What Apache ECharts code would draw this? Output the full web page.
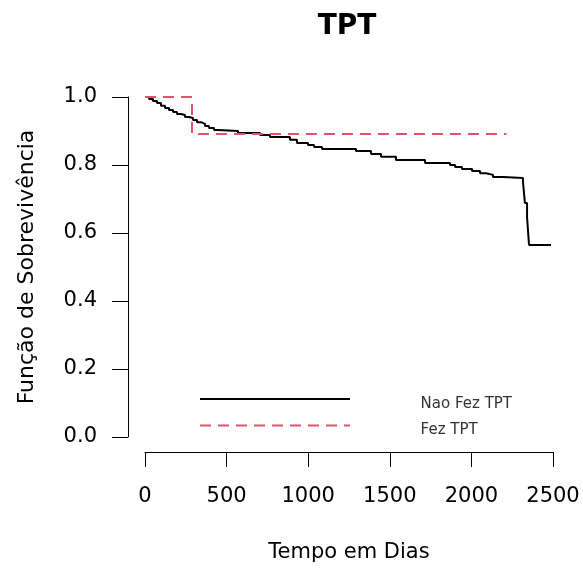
<!DOCTYPE html>
<html>
<head>
<meta charset="utf-8">
<script src="https://cdn.jsdelivr.net/npm/echarts@6/dist/echarts.min.js"></script>
<style>
  html, body { margin: 0; padding: 0; background: #fff; }
  #chart { width: 583px; height: 575px; }
</style>
</head>
<body>
<div id="chart"></div>
<script>
// curva de Kaplan-Meier
var naoFezTempo = [0, 25, 49, 74, 98, 123, 147, 172, 196, 221, 245, 270, 294, 319, 343, 368, 392, 423, 447,
    570, 705, 766, 888, 931, 999, 1036, 1085, 1293, 1385, 1446, 1538, 1716, 1869, 1900, 1942, 2004,
    2053, 2090, 2132, 2194, 2316, 2328, 2341, 2353, 2488];
var naoFezSobrev = [1.0, 0.994, 0.988, 0.982, 0.974, 0.968, 0.962, 0.956, 0.950, 0.947, 0.941, 0.938, 0.932,
    0.926, 0.921, 0.915, 0.909, 0.903, 0.900, 0.894, 0.888, 0.882, 0.874, 0.865, 0.859, 0.853, 0.847,
    0.841, 0.832, 0.824, 0.815, 0.806, 0.800, 0.794, 0.788, 0.782, 0.776, 0.771, 0.765, 0.762, 0.750,
    0.688, 0.647, 0.565, 0.565];

var fezTempo = [0, 288, 2215];
var fezSobrev = [1.0, 0.891, 0.891];

var xTicks = [0, 500, 1000, 1500, 2000, 2500];
var yTicks = [0.0, 0.2, 0.4, 0.6, 0.8, 1.0];

var nomes = ['Nao Fez TPT', 'Fez TPT'];

function pares(t, s) {
    var out = [];
    for (var i = 0; i < t.length; i++) {
        out.push([t[i], s[i]]);
    }
    return out;
}

var myChart = echarts.init(document.getElementById('chart'));
var fonte = '"DejaVu Sans", sans-serif';

var option = {
    animation: false,
    backgroundColor: '#fff',
    title: {
        text: 'TPT',
        left: 342,
        top: 8,
        textAlign: 'center',
        textStyle: { fontFamily: fonte, fontSize: 28, fontWeight: 'bold', color: '#000' }
    },
    // legenda estilo R: linhas a esquerda, texto bem afastado e um pouco abaixo
    legend: [
        {
            data: nomes,
            orient: 'vertical',
            left: 194,
            top: 387,
            itemWidth: 150,
            itemHeight: 14,
            itemGap: 14,
            itemStyle: { opacity: 0 },
            formatter: function () { return ''; }
        },
        {
            data: nomes,
            orient: 'vertical',
            left: 405,
            top: 392,
            itemWidth: 0,
            itemHeight: 14,
            itemGap: 11,
            itemStyle: { opacity: 0 },
            lineStyle: { opacity: 0 },
            textStyle: { fontFamily: fonte, fontSize: 15, color: '#333' }
        }
    ],
    grid: { left: 145, right: 30, top: 97, bottom: 138 },
    xAxis: {
        type: 'value',
        min: xTicks[0],
        max: xTicks[xTicks.length - 1],
        interval: 500,
        offset: 15,
        name: 'Tempo em Dias',
        nameLocation: 'middle',
        nameGap: 90,
        nameTextStyle: { fontFamily: fonte, fontSize: 21, color: '#000' },
        axisLine: { onZero: false, lineStyle: { color: '#000', width: 1 } },
        axisTick: { length: 15, lineStyle: { color: '#000', width: 1 } },
        axisLabel: {
            margin: 34, fontFamily: fonte, fontSize: 21, color: '#000',
            formatter: function (v) { return String(v); }
        },
        splitLine: { show: false }
    },
    yAxis: {
        type: 'value',
        min: yTicks[0],
        max: yTicks[yTicks.length - 1],
        interval: 0.2,
        offset: 17,
        name: 'Função de Sobrevivência',
        nameLocation: 'middle',
        nameRotate: 90,
        nameGap: 90,
        nameTextStyle: { fontFamily: fonte, fontSize: 22, color: '#000' },
        axisLine: { show: true, onZero: false, lineStyle: { color: '#000', width: 1 } },
        axisTick: { show: true, length: 16, lineStyle: { color: '#000', width: 1 } },
        axisLabel: {
            margin: 31, fontFamily: fonte, fontSize: 21, color: '#000',
            formatter: function (v) { return v.toFixed(1); }
        },
        splitLine: { show: false }
    },
    series: [
        {
            name: nomes[0],
            type: 'line',
            step: 'end',
            showSymbol: false,
            symbol: 'none',
            data: pares(naoFezTempo, naoFezSobrev),
            lineStyle: { color: '#000', width: 2 },
            itemStyle: { color: '#000' }
        },
        {
            name: nomes[1],
            type: 'line',
            step: 'end',
            showSymbol: false,
            symbol: 'none',
            data: pares(fezTempo, fezSobrev),
            lineStyle: { color: '#DF536B', width: 2, type: [11, 7] },
            itemStyle: { color: '#DF536B' }
        }
    ]
};

myChart.setOption(option);
</script>
</body>
</html>
